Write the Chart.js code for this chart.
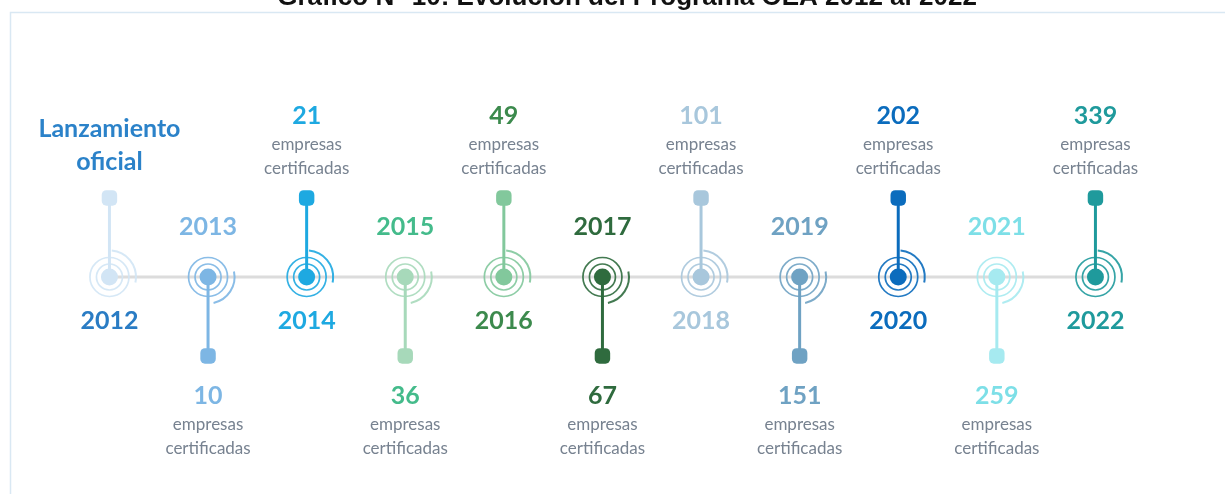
<!DOCTYPE html>
<html>
<head>
<meta charset="utf-8">
<script src="https://cdn.jsdelivr.net/npm/chart.js@4.4.1/dist/chart.umd.min.js"></script>
<style>
  html, body { margin: 0; padding: 0; background: #ffffff; }
  #wrap { position: relative; width: 1225px; height: 494px; }
</style>
</head>
<body>
<div id="wrap"><canvas id="myChart"></canvas></div>
<script>
// data
const years = [2012, 2013, 2014, 2015, 2016, 2017, 2018, 2019, 2020, 2021, 2022];
const companies = [null, 10, 21, 36, 49, 67, 101, 151, 202, 259, 339];
const side = [1, -1, 1, -1, 1, -1, 1, -1, 1, -1, 1]; // 1 = stem up, -1 = stem down
const launchLabel = ['Lanzamiento', 'oficial'];
const unitLabel = ['empresas', 'certificadas'];
const titleText = 'Gráfico N° 10: Evolución del Programa OEA 2012 al 2022';

// colours
const markColors = ['#d2e5f5', '#7db6e4', '#1ea9e1', '#a7d9ba', '#82c89c', '#2f6b3e',
                    '#a8c7dc', '#6fa2c3', '#0b6cbd', '#a6eaf0', '#1f9a9c'];
const textColors = ['#2a7cc4', '#7db6e4', '#1ea9e1', '#44bb8b', '#3c8a4d', '#2f6b3e',
                    '#a8c7dc', '#6fa2c3', '#0b6cbd', '#7ddfe7', '#1f9a9c'];
const grayText = '#778290';
const FONT = 'Lato, "Open Sans", sans-serif';

document.addEventListener('DOMContentLoaded', () => {
    const ctx = document.getElementById('myChart').getContext('2d');

    const stemSets = years.map((yr, i) => ({
        type: 'line',
        data: [{ x: yr, y: 0 }, { x: yr, y: side[i] }],
        borderColor: markColors[i],
        borderWidth: 3,
        pointRadius: 0,
        order: 5
    }));

    const data = {
        datasets: [
            {
                type: 'line',
                label: 'axis',
                data: [{ x: years[0], y: 0 }, { x: years[years.length - 1], y: 0 }],
                borderColor: '#dcdcdc',
                borderWidth: 3,
                pointRadius: 0,
                order: 10
            },
            ...stemSets,
            {
                type: 'scatter',
                label: 'markers',
                data: years.map((yr, i) => ({ x: yr, y: side[i] })),
                pointStyle: 'rectRounded',
                pointRadius: 9,
                backgroundColor: markColors,
                borderWidth: 0,
                order: 1
            },
            {
                type: 'scatter',
                label: 'dots',
                data: years.map(yr => ({ x: yr, y: 0 })),
                pointStyle: 'circle',
                pointRadius: 8.5,
                backgroundColor: markColors,
                borderWidth: 0,
                order: 1
            }
        ]
    };

    // rings round each year, drawn just above the axis line
    const ringPlugin = {
        id: 'rings',
        afterDatasetDraw(chart, args) {
            if (args.index !== 0) return;
            const c = chart.ctx;
            const xs = chart.scales.x, ys = chart.scales.y;
            c.save();
            years.forEach((yr, i) => {
                const px = xs.getPixelForValue(yr);
                const py = ys.getPixelForValue(0);
                c.strokeStyle = markColors[i];
                c.lineWidth = 1.7;
                c.globalAlpha = 0.9;
                c.beginPath(); c.arc(px, py, 13, 0, Math.PI * 2); c.stroke();
                c.beginPath(); c.arc(px, py, 19.5, 0, Math.PI * 2); c.stroke();
                c.lineWidth = 2;
                const a0 = side[i] > 0 ? -85 : -12;
                const a1 = side[i] > 0 ? 12 : 78;
                c.beginPath(); c.arc(px, py, 26.5, a0 * Math.PI / 180, a1 * Math.PI / 180); c.stroke();
            });
            c.restore();
        }
    };

    // labels, frame and title
    const labelPlugin = {
        id: 'labels',
        beforeDraw(chart) {
            const c = chart.ctx;
            c.save();
            c.strokeStyle = '#d9e8f3';
            c.lineWidth = 1.5;
            c.beginPath();
            c.moveTo(1230, 12.5);
            c.lineTo(10.5, 12.5);
            c.lineTo(10.5, 500);
            c.stroke();
            c.fillStyle = '#111111';
            c.font = 'bold 26px "Liberation Sans", Arial, sans-serif';
            c.textAlign = 'center';
            c.textBaseline = 'alphabetic';
            c.fillText(titleText, 627, 5);
            c.restore();
        },
        afterDatasetsDraw(chart) {
            const c = chart.ctx;
            const xs = chart.scales.x, ys = chart.scales.y;
            c.save();
            c.textAlign = 'center';
            c.textBaseline = 'middle';
            years.forEach((yr, i) => {
                const px = xs.getPixelForValue(yr);
                const py = ys.getPixelForValue(0);
                const pm = ys.getPixelForValue(side[i]);
                const up = side[i] > 0;
                // year label on the opposite side of the stem
                c.fillStyle = textColors[i];
                c.font = 'bold 25px ' + FONT;
                c.fillText(String(yr), px, up ? py + 44 : py - 50);
                if (companies[i] === null) {
                    c.fillStyle = '#2b82c9';
                    c.fillText(launchLabel[0], px, pm - 69);
                    c.fillText(launchLabel[1], px, pm - 36);
                    return;
                }
                const base = up ? pm - 82 : pm + 40;
                c.fillStyle = textColors[i];
                c.font = 'bold 25px ' + FONT;
                c.fillText(String(companies[i]), px, base);
                c.fillStyle = grayText;
                c.font = '17px ' + FONT;
                c.fillText(unitLabel[0], px, base + 29);
                c.fillText(unitLabel[1], px, base + 53);
            });
            c.restore();
        }
    };

    const options = {
        responsive: true,
        maintainAspectRatio: false,
        animation: false,
        layout: { padding: 0, autoPadding: false },
        plugins: {
            legend: { display: false },
            title: { display: false },
            tooltip: { enabled: false }
        },
        scales: {
            x: { type: 'linear', display: false, min: 2010.89, max: 2023.314 },
            y: { type: 'linear', display: false, min: -2.747, max: 3.506 }
        }
    };

    new Chart(ctx, {
        type: 'scatter',
        data: data,
        options: options,
        plugins: [ringPlugin, labelPlugin]
    });
});
</script>
</body>
</html>
